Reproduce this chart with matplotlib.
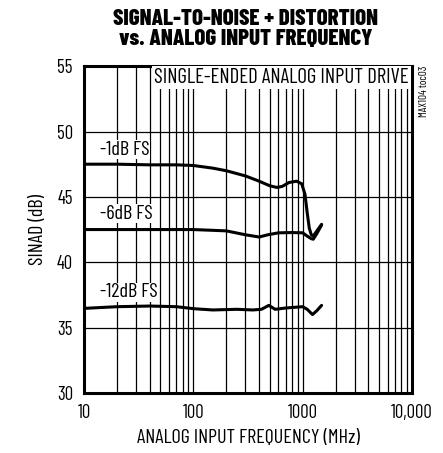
import matplotlib
matplotlib.use("Agg")
import matplotlib.pyplot as plt
from matplotlib.ticker import FixedLocator, NullFormatter

plt.rcParams["font.family"] = ["Barlow Condensed", "Roboto Condensed", "DejaVu Sans"]
plt.rcParams["font.weight"] = 400

# data
freq_1db = [10, 20, 40, 70, 100, 150, 200, 300, 400, 500, 580, 650, 750, 880, 980, 1050, 1100, 1150, 1200, 1250, 1350, 1490]
sinad_1db = [47.5, 47.5, 47.45, 47.45, 47.4, 47.2, 47.0, 46.6, 46.2, 45.85, 45.72, 45.8, 46.1, 46.2, 46.0, 45.2, 43.8, 42.6, 42.1, 42.0, 42.4, 42.9]

freq_6db = [10, 50, 100, 200, 300, 400, 480, 600, 800, 1000, 1100, 1200, 1250, 1350, 1490]
sinad_6db = [42.5, 42.5, 42.5, 42.4, 42.1, 41.93, 42.1, 42.25, 42.27, 42.25, 42.0, 41.8, 41.76, 42.2, 42.85]

freq_12db = [10, 20, 40, 70, 100, 150, 250, 350, 420, 490, 560, 700, 1000, 1100, 1230, 1350, 1490]
sinad_12db = [36.47, 36.6, 36.65, 36.6, 36.45, 36.35, 36.4, 36.35, 36.4, 36.7, 36.4, 36.5, 36.6, 36.4, 36.0, 36.3, 36.7]

curve_labels = ["-1dB FS", "-6dB FS", "-12dB FS"]
label_y = [48.6, 43.7, 37.7]

x_ticks = [10, 100, 1000, 10000]
x_ticklabels = ["10", "100", "1000", "10,000"]
y_ticks = [30, 35, 40, 45, 50, 55]

fig = plt.figure(figsize=(4.43, 4.53), dpi=100)
ax = fig.add_axes([0.1896, 0.1325, 0.7404, 0.7215])

for f, s in [(freq_1db, sinad_1db), (freq_6db, sinad_6db), (freq_12db, sinad_12db)]:
    ax.plot(f, s, color="black", lw=2.2, solid_joinstyle="round", solid_capstyle="round", zorder=3)

ax.set_xscale("log")
ax.set_xlim(10, 10000)
ax.set_ylim(30, 55)
ax.xaxis.set_major_locator(FixedLocator(x_ticks))
ax.set_xticklabels(x_ticklabels)
minors = [m * d for d in (10, 100, 1000) for m in range(2, 10)]
ax.xaxis.set_minor_locator(FixedLocator(minors))
ax.xaxis.set_minor_formatter(NullFormatter())
ax.set_yticks(y_ticks)
ax.grid(True, which="both", axis="x", color="black", lw=0.9)
ax.grid(True, which="major", axis="y", color="black", lw=0.9)
ax.tick_params(which="both", length=0, labelsize=13.5, pad=8)
for sp in ax.spines.values():
    sp.set_linewidth(2.2)

for txt, y in zip(curve_labels, label_y):
    ax.text(13.9, y, txt, fontsize=14.5, va="center", ha="left", zorder=4,
            bbox=dict(facecolor="white", edgecolor="none", pad=0.5))

ax.text(0.99, 0.995, "SINGLE-ENDED ANALOG INPUT DRIVE", transform=ax.transAxes,
        fontsize=15, ha="right", va="top", zorder=4,
        bbox=dict(facecolor="white", edgecolor="none", pad=1.5))

fig.text(0.958, 0.856, "MAX104 toc03", rotation=90, fontsize=8, ha="center", va="top")

ax.set_xlabel("ANALOG INPUT FREQUENCY (MHz)", fontsize=14.5, labelpad=5)
ax.set_ylabel("SINAD (dB)", fontsize=14.5, labelpad=7)

fig.text(0.555, 0.98, "SIGNAL-TO-NOISE + DISTORTION\nvs. ANALOG INPUT FREQUENCY",
         fontsize=16.5, fontweight=800, ha="center", va="top", linespacing=1.0)

fig.savefig("out.png", dpi=100)
